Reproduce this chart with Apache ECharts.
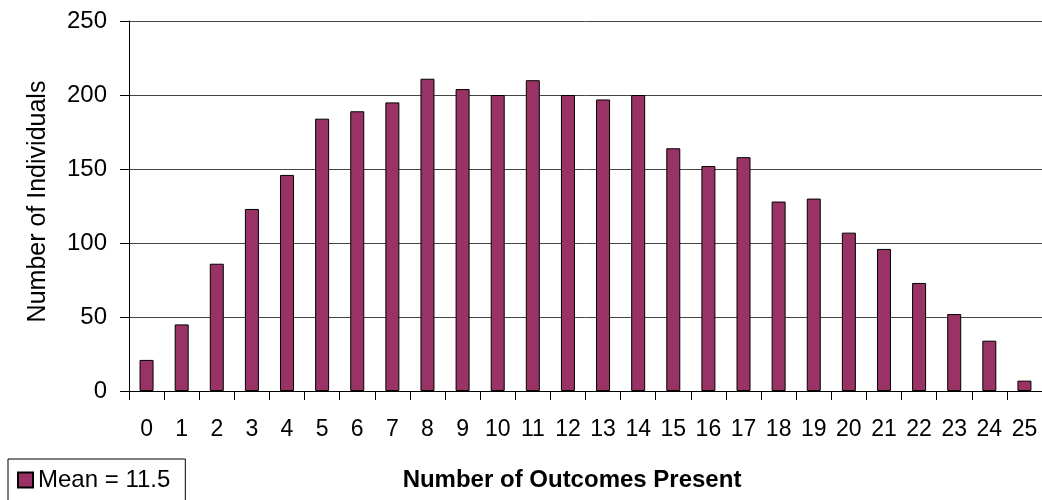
<!DOCTYPE html>
<html>
<head>
<meta charset="utf-8">
<script src="https://cdn.jsdelivr.net/npm/echarts@6/dist/echarts.min.js"></script>
<style>
  html, body { margin: 0; padding: 0; background: #fff; }
  #chart { width: 1042px; height: 500px; }
</style>
</head>
<body>
<div id="chart"></div>
<script>
// outcomes present (0..25)
const outcomes = ["0","1","2","3","4","5","6","7","8","9","10","11","12","13","14","15","16","17","18","19","20","21","22","23","24","25"];
// number of individuals per outcome count
const individuals = [21, 45, 86, 123, 146, 184, 189, 195, 211, 204, 200, 210, 200, 197, 200, 164, 152, 158, 128, 130, 107, 96, 73, 52, 34, 7];
const seriesName = "Mean = 11.5";
const yTicks = { min: 0, max: 250, interval: 50 };

const font = "'Liberation Sans', Arial, sans-serif";
var myChart = echarts.init(document.getElementById("chart"));

let option = {
  animation: false,
  textStyle: { fontFamily: font, color: "#000" },
  grid: {
    left: 129,
    top: 21,
    right: -7,
    bottom: 109,
    containLabel: false,
  },
  title: {
    text: "Number of Outcomes Present",
    left: 572,
    top: 468,
    textAlign: "center",
    padding: 0,
    textStyle: { fontFamily: font, fontSize: 24, fontWeight: "bold", color: "#000" },
  },
  legend: {
    data: [seriesName],
    left: 8,
    top: 459,
    orient: "horizontal",
    padding: [9, 15, 12, 9],
    borderColor: "#000",
    borderWidth: 1,
    icon: "rect",
    itemWidth: 15,
    itemHeight: 15,
    textStyle: { fontFamily: font, fontSize: 24, color: "#000" },
  },
  xAxis: {
    type: "category",
    data: outcomes,
    boundaryGap: true,
    axisLine: { show: true, lineStyle: { color: "#000", width: 1 } },
    axisTick: { show: true, alignWithLabel: false, length: 9, lineStyle: { color: "#000" } },
    axisLabel: { fontSize: 23, color: "#000", margin: 27, interval: 0, fontFamily: font },
    splitLine: { show: false },
  },
  yAxis: {
    type: "value",
    min: yTicks.min,
    max: yTicks.max,
    interval: yTicks.interval,
    name: "Number of Individuals",
    nameLocation: "middle",
    nameGap: 78,
    nameRotate: 90,
    nameTextStyle: { fontSize: 25, color: "#000", fontFamily: font, padding: [0, 0, 0, 9] },
    axisLine: { show: true, lineStyle: { color: "#000", width: 1 } },
    axisTick: { show: true, length: 9, lineStyle: { color: "#000" } },
    axisLabel: { fontSize: 24, color: "#000", margin: 22, fontFamily: font },
    splitLine: { show: true, lineStyle: { color: "#444", width: 1 } },
  },
  series: [
    {
      name: seriesName,
      type: "bar",
      data: individuals,
      barWidth: 14,
      itemStyle: { color: "#993366", borderColor: "#000", borderWidth: 1 },
    },
  ],
};
myChart.setOption(option);
</script>
</body>
</html>
